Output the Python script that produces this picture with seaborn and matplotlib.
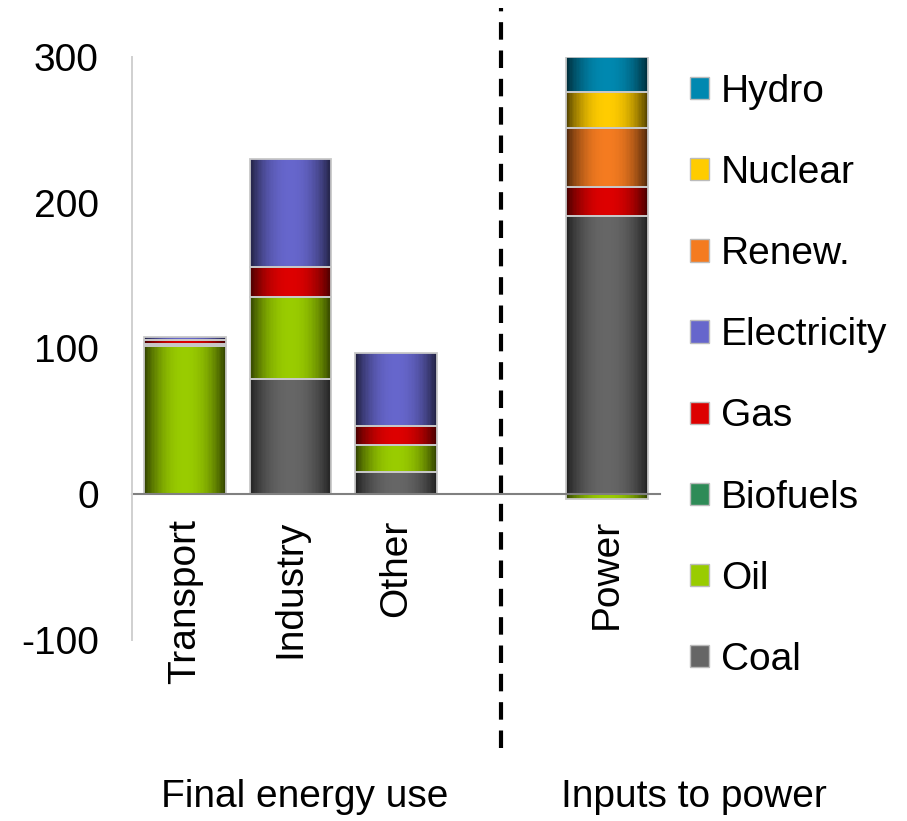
import numpy as np
import pandas as pd
import seaborn as sns
import matplotlib.pyplot as plt
from matplotlib.patches import Patch

# data
sectors = ["Transport", "Industry", "Other", "Power"]
slots = ["Transport", "Industry", "Other", "", "Power"]  # empty slot holds the divider
fuels = ["Coal", "Oil", "Biofuels", "Gas", "Electricity", "Renew.", "Nuclear", "Hydro"]
coal = [0, 79, 15, 191]
oil = [102, 56, 19, -3]
biofuels = [1, 0, 0, 0]
gas = [3, 21, 13, 20]
electricity = [2, 74, 50, 0]
renew = [0, 0, 0, 40]
nuclear = [0, 0, 0, 25]
hydro = [0, 0, 0, 24]
colors = ["#666666", "#99cc00", "#2e8b57", "#dd0000", "#6666cc", "#f47b20", "#ffcc00", "#0088b0"]
groups = ["Final energy use", "Inputs to power"]
yticks = [-100, 0, 100, 200, 300]

sns.set_style("white")
plt.rcParams["font.family"] = ["Liberation Sans", "DejaVu Sans"]
plt.rcParams["axes.unicode_minus"] = False

df = pd.DataFrame(dict(zip(fuels, [coal, oil, biofuels, gas, electricity, renew, nuclear, hydro])), index=sectors)
pos = df.clip(lower=0)
neg = df.clip(upper=0)
bottoms = (pos.cumsum(axis=1) - pos).where(df >= 0, neg.cumsum(axis=1) - neg)

fig = plt.figure(figsize=(9.07, 8.21), dpi=100)
ax = fig.add_axes([0.1458, 0.2205, 0.5816, 0.7101])

for fuel, color in zip(fuels, colors):
    sub = df[fuel][df[fuel] != 0]
    sns.barplot(x=list(sub.index), y=sub.values, order=slots,
                bottom=bottoms.loc[sub.index, fuel].values,
                color=color, saturation=1, width=0.77, errorbar=None,
                edgecolor="#c8c8c8", linewidth=1.3, ax=ax)

# horizontal shading inside each bar: thin vertical strips, dark edges, bright middle
n = 60
tt = (np.arange(n) + 0.5) / n
shade = 0.32 + 0.68 * (1 - np.abs(2 * tt - 1) ** 2.2)
bars = list(ax.patches)
for p in bars:
    rgb = np.array(p.get_facecolor()[:3])
    x0, y0 = float(p.get_x()), float(p.get_y())
    w, h = float(p.get_width()), float(p.get_height())
    ax.bar(x0 + w * tt, h, width=w / n * 1.08, bottom=y0,
           color=shade[:, None] * rgb[None, :], linewidth=0, zorder=0.9)
    p.set_facecolor("none")
    p.set_zorder(1)

ax.set_xlim(-0.5, 4.5)
ax.set_ylim(-100, 300)
ax.set_yticks(yticks)
ax.set_xlabel("")
ax.set_ylabel("")

for s in ["top", "right"]:
    ax.spines[s].set_visible(False)
ax.spines["left"].set_color("#d0d0d0")
ax.spines["left"].set_linewidth(1.4)
ax.spines["bottom"].set_position(("data", 0))
ax.spines["bottom"].set_color("#808080")
ax.spines["bottom"].set_linewidth(1.5)
ax.spines["bottom"].set_zorder(2)

ax.tick_params(axis="y", direction="in", length=7, width=1.2, color="#d0d0d0",
               labelsize=28, pad=24, labelcolor="black")
ax.tick_params(axis="x", length=0, labelsize=28, pad=18, labelrotation=90, labelcolor="black")

ax.axvline(slots.index(""), ymin=-0.185, ymax=1.084, color="black", lw=3,
           linestyle=(0, (4.2, 2.6)), clip_on=False)

fig.text(0.336, 0.029, groups[0], ha="center", va="center", fontsize=28, color="black")
fig.text(0.765, 0.029, groups[1], ha="center", va="center", fontsize=28, color="black")

handles = [Patch(facecolor=c, edgecolor="#bbbbbb", label=f) for f, c in zip(fuels, colors)][::-1]
fig.legend(handles=handles, loc="upper left", bbox_to_anchor=(690 / 907, 1 - 74 / 821),
           frameon=False, fontsize=28, handlelength=0.5, handleheight=0.5,
           handletextpad=0.3, labelspacing=1.16, borderaxespad=0, borderpad=0,
           labelcolor="black")

fig.savefig("out.png", dpi=100)
